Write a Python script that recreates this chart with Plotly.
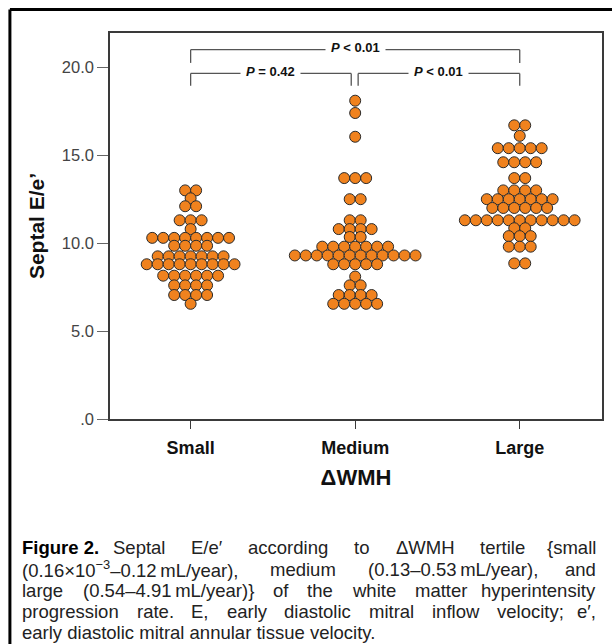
import re
import plotly.graph_objects as go

# ---------------- data ----------------
categories = ["Small", "Medium", "Large"]

small_levels = [13.0, 12.55, 12.1, 11.3, 10.8, 10.3, 9.85, 9.25, 8.8, 8.15, 7.6, 7.05, 6.55]
small_counts = [2, 1, 2, 3, 1, 8, 4, 7, 9, 6, 4, 4, 1]

medium_levels = [18.1, 17.4, 16.05, 13.7, 12.5, 11.3, 10.8, 10.35, 9.8, 9.3, 8.8, 8.1, 7.6, 7.05, 6.55]
medium_counts = [1, 1, 1, 3, 2, 2, 4, 2, 7, 12, 5, 1, 2, 4, 5]

large_levels = [16.7, 16.1, 15.4, 14.6, 13.7, 13.0, 12.5, 12.0, 11.3, 10.85, 10.4, 9.8, 8.85]
large_counts = [2, 1, 5, 4, 2, 4, 7, 6, 11, 2, 3, 3, 2]

y_ticks = [0, 5, 10, 15, 20]
y_tick_labels = [".0", "5.0", "10.0", "15.0", "20.0"]

p_labels = ["<b><i>P</i> &lt; 0.01</b>", "<b><i>P</i> = 0.42</b>", "<b><i>P</i> &lt; 0.01</b>"]

caption_label = "Figure 2."
caption_lines = [
    "Septal E/e\u2032 according to \u0394WMH tertile {small",
    "(0.16\u00d710<sup>\u22123</sup>\u20130.12\u2009mL/year), medium (0.13\u20130.53\u2009mL/year), and",
    "large (0.54\u20134.91\u2009mL/year)} of the white matter hyperintensity",
    "progression rate. E, early diastolic mitral inflow velocity; e\u2032,",
    "early diastolic mitral annular tissue velocity.",
]

# ---------------- layout constants ----------------
W, H = 612, 644
L, R, T, B = 110, 8, 33, 225
PW, PH = W - L - R, H - T - B
Y_MAX = 21.95
X_RANGE = [-0.49, 2.5]
DOT_STEP = 0.0667  # horizontal spacing of stacked dots (category units)
FONT = "Liberation Sans, Arial, sans-serif"


def px_x(px):
    return (px - L) / PW


def px_y(py):
    return (H - B - py) / PH


def swarm(center, levels, counts):
    xs, ys = [], []
    for v, n in zip(levels, counts):
        for i in range(n):
            xs.append(center + (i - (n - 1) / 2) * DOT_STEP)
            ys.append(v)
    return xs, ys


fig = go.Figure()
for ci, (lv, ct) in enumerate([(small_levels, small_counts),
                                (medium_levels, medium_counts),
                                (large_levels, large_counts)]):
    xs, ys = swarm(ci, lv, ct)
    fig.add_trace(go.Scatter(
        x=xs, y=ys, mode="markers", name=categories[ci], showlegend=False,
        marker=dict(size=11, color="#F0821E", line=dict(color="#2b2b2b", width=1)),
        hoverinfo="y",
    ))

AX_COLOR = "#3a3a3a"
fig.update_layout(
    width=W, height=H,
    margin=dict(l=L, r=R, t=T, b=B),
    paper_bgcolor="white", plot_bgcolor="white",
    font=dict(family=FONT, color="#111"),
    xaxis=dict(
        range=X_RANGE, tickvals=[0, 1, 2],
        ticktext=["<b>%s</b>" % c for c in categories],
        tickfont=dict(size=18, color="#111"),
        showgrid=False, zeroline=False,
        showline=True, linecolor=AX_COLOR, linewidth=1.5, mirror=True,
        ticks="outside", ticklen=8, tickcolor=AX_COLOR, tickwidth=1.2,
        ticklabelstandoff=4,
        title=dict(text="<b>\u0394WMH</b>", font=dict(size=22, color="#111"), standoff=12),
    ),
    yaxis=dict(
        range=[0, Y_MAX], tickvals=y_ticks, ticktext=y_tick_labels,
        tickfont=dict(size=16.5, color="#444"),
        showgrid=False, zeroline=False,
        showline=True, linecolor=AX_COLOR, linewidth=1.5, mirror=True,
        ticks="outside", ticklen=11, tickcolor="#666", tickwidth=1.2,
        title=dict(text="<b>Septal E/e\u2019</b>", font=dict(size=21, color="#111"), standoff=11),
    ),
)

# ---------------- significance brackets ----------------
BR = dict(color="#555", width=1.3)
top_y, top_drop = 21.0, 20.25
low_y, low_drop = 19.65, 18.95
mid_l, mid_r = 0.976, 1.018
segments = [
    (0, top_drop, 0, top_y), (0, top_y, 2, top_y), (2, top_y, 2, top_drop),
    (0, low_drop, 0, low_y), (0, low_y, mid_l, low_y), (mid_l, low_y, mid_l, low_drop),
    (mid_r, low_drop, mid_r, low_y), (mid_r, low_y, 2, low_y), (2, low_y, 2, low_drop),
]
for x0, y0, x1, y1 in segments:
    fig.add_shape(type="line", xref="x", yref="y", x0=x0, y0=y0, x1=x1, y1=y1, line=BR)

for (xc, yc, txt) in [(1.0, top_y, p_labels[0]),
                      ((0 + mid_l) / 2, low_y, p_labels[1]),
                      ((mid_r + 2) / 2, low_y, p_labels[2])]:
    fig.add_annotation(x=xc, y=yc, xref="x", yref="y", text=txt, showarrow=False,
                       bgcolor="white", borderpad=5, yshift=2,
                       font=dict(size=13, color="#111"))

# ---------------- outer frame ----------------
fig.add_shape(type="line", xref="paper", yref="paper",
              x0=px_x(9.5), y0=px_y(9.5), x1=px_x(640), y1=px_y(9.5),
              line=dict(color="black", width=3))
fig.add_shape(type="line", xref="paper", yref="paper",
              x0=px_x(9.5), y0=px_y(9.5), x1=px_x(9.5), y1=px_y(700),
              line=dict(color="black", width=3))

# ---------------- caption (justified by estimated word widths) ----------------
ARIAL = {' ': 278, '(': 333, ')': 333, ',': 278, '.': 278, '/': 278, ';': 278,
         '{': 334, '}': 334, '0': 556, '1': 556, '2': 556, '3': 556, '4': 556,
         '5': 556, '6': 556, '7': 556, '8': 556, '9': 556,
         '\u00d7': 584, '\u2013': 556, '\u2212': 584, '\u2032': 191, '\u0394': 668,
         '\u2009': 200, 'A': 667, 'E': 667, 'H': 722, 'L': 556, 'M': 833, 'S': 667,
         'W': 944, 'a': 556, 'b': 556, 'c': 500, 'd': 556, 'e': 556, 'f': 278,
         'g': 556, 'h': 556, 'i': 222, 'j': 222, 'k': 500, 'l': 222, 'm': 833,
         'n': 556, 'o': 556, 'p': 556, 'q': 556, 'r': 333, 's': 500, 't': 278,
         'u': 556, 'v': 500, 'w': 722, 'x': 500, 'y': 500, 'z': 500}


def text_width(s, size):
    total, scale = 0.0, 1.0
    for tok in re.split(r'(<[^>]+>)', s):
        if tok.startswith('<'):
            scale = 0.7 if tok == '<sup>' else (1.0 if tok == '</sup>' else scale)
            continue
        for ch in tok:
            total += ARIAL.get(ch, 556) * scale
    return total * size / 1000


CAP_SIZE = 18.5
LEAD_SIZE = 18.5
CAP_LEFT, CAP_RIGHT = 20, 600
cap_y = [547, 569, 590, 611, 632]
cap_font = dict(size=CAP_SIZE, color="#222", family=FONT)

fig.add_annotation(x=px_x(CAP_LEFT), y=px_y(cap_y[0]), xref="paper", yref="paper",
                   xanchor="left", yanchor="middle", showarrow=False,
                   text="<b>%s</b>" % caption_label,
                   font=dict(size=LEAD_SIZE, color="#000", family=FONT))
lead_w = 4168 * LEAD_SIZE / 1000 + 14

for li, (line, yy) in enumerate(zip(caption_lines, cap_y)):
    start = CAP_LEFT + (lead_w if li == 0 else 0)
    words = line.split(" ")
    if li == len(caption_lines) - 1:
        fig.add_annotation(x=px_x(start), y=px_y(yy), xref="paper", yref="paper",
                           xanchor="left", yanchor="middle", showarrow=False,
                           text=line, font=cap_font)
        continue
    widths = [text_width(w, CAP_SIZE) for w in words]
    gap = (CAP_RIGHT - start - sum(widths)) / (len(words) - 1)
    xpos = start
    for wi, (w, ww) in enumerate(zip(words, widths)):
        last = wi == len(words) - 1
        fig.add_annotation(x=px_x(CAP_RIGHT if last else xpos), y=px_y(yy),
                           xref="paper", yref="paper",
                           xanchor="right" if last else "left", yanchor="middle",
                           showarrow=False, text=w, font=cap_font)
        xpos += ww + gap

fig.write_html("out.html", config={"displayModeBar": False})

# remove the default page margin so the figure sits at the window's top-left corner
with open("out.html", encoding="utf-8") as f:
    html = f.read()
html = html.replace("<head>", "<head><style>html,body{margin:0;padding:0;}</style>", 1)
with open("out.html", "w", encoding="utf-8") as f:
    f.write(html)
